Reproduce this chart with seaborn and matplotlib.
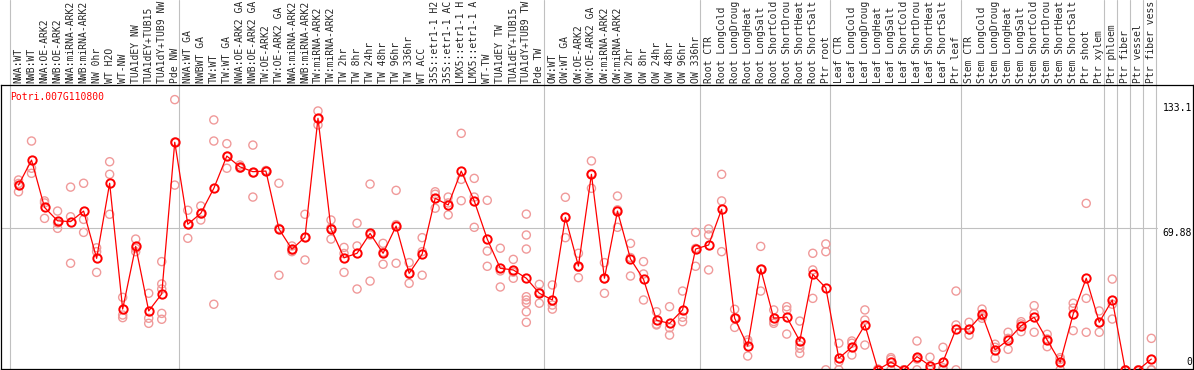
import pandas as pd
import matplotlib
matplotlib.use("Agg")
import matplotlib.pyplot as plt
import seaborn as sns

# %% Data
gene = "Potri.007G110800"

labels = [
    "NWA:WT", "NWB:WT", "NWA:OE-ARK2", "NWB:OE-ARK2", "NWA:miRNA-ARK2", "NWB:miRNA-ARK2",
    "NW 0hr", "WT H2O", "WT-NW", "TUA1dEY NW", "TUA1dEY+TUB15", "TUA1dY+TUB9 NW", "Pde NW",
    "NWA:WT GA", "NWBWT GA", "TW:WT", "TW:WT GA", "NWA:OE-ARK2 GA", "NWB:OE-ARK2 GA",
    "TW:OE-ARK2", "TW:OE-ARK2 GA", "NWA:miRNA-ARK2", "NWB:miRNA-ARK2", "TW:miRNA-ARK2",
    "TW:miRNA-ARK2", "TW 2hr", "TW 8hr", "TW 24hr", "TW 48hr", "TW 96hr", "TW 336hr",
    "WT ACC", "35S::etr1-1 H2", "35S::etr1-1 AC", "LMX5::etr1-1 H", "LMX5::etr1-1 A",
    "WT-TW", "TUA1dEY TW", "TUA1dEY+TUB15", "TUA1dY+TUB9 TW", "Pde TW",
    "OW:WT", "OW:WT GA", "OW:OE-ARK2", "OW:OE-ARK2 GA", "OW:miRNA-ARK2", "OW:miRNA-ARK2",
    "OW 2hr", "OW 8hr", "OW 24hr", "OW 48hr", "OW 96hr", "OW 336hr",
    "Root CTR", "Root LongCold", "Root LongDroug", "Root LongHeat", "Root LongSalt",
    "Root ShortCold", "Root ShortDrou", "Root ShortHeat", "Root ShortSalt", "Ptr root",
    "Leaf CTR", "Leaf LongCold", "Leaf LongDroug", "Leaf LongHeat", "Leaf LongSalt",
    "Leaf ShortCold", "Leaf ShortDrou", "Leaf ShortHeat", "Leaf ShortSalt", "Ptr leaf",
    "Stem CTR", "Stem LongCold", "Stem LongDroug", "Stem LongHeat", "Stem LongSalt",
    "Stem ShortCold", "Stem ShortDrou", "Stem ShortHeat", "Stem ShortSalt", "Ptr shoot",
    "Ptr xylem", "Ptr phloem", "Ptr fiber", "Ptr vessel", "Ptr fiber vess",
]

means = [
    91.0, 103.3, 80.0, 73.4, 73.0, 78.2, 54.9, 91.9, 29.9, 60.8, 29.0, 37.4, 112.1,
    71.7, 77.1, 89.4, 105.3, 100.0, 97.6, 97.9, 69.4, 59.4, 65.3, 123.9, 69.4, 55.2,
    57.4, 67.2, 57.4, 70.8, 47.5, 57.0, 84.5, 81.2, 97.9, 83.2, 64.4, 50.0, 49.2, 45.1,
    37.7, 34.4, 75.1, 51.1, 96.3, 45.1, 78.2, 54.6, 44.6, 24.4, 22.9, 29.5, 59.5,
    61.5, 79.1, 25.4, 11.7, 49.7, 25.4, 26.0, 14.2, 47.0, 40.4,
    5.7, 11.2, 22.1, 0.1, 3.8, 0.0, 6.5, 2.0, 4.0, 20.1,
    20.1, 27.3, 9.8, 14.7, 21.7, 25.9, 14.7, 3.7, 27.5, 45.1, 23.4,
    34.4, 0.0, 0.0, 5.3,
]

replicates = [
    [93.5, 87.7, 91.8], [112.7, 99.3, 96.8], [83.2, 82.2, 74.6], [78.2, 72.3, 69.7],
    [90.0, 75.4, 52.5], [91.9, 74.1, 67.7], [60.1, 58.2, 48.0], [102.5, 96.3, 76.6],
    [35.7, 27.0, 25.7], [64.4, 58.2, 59.8], [37.7, 25.4, 22.9],
    [53.3, 42.3, 39.8, 27.8, 24.9], [133.1, 112.2, 91.0],
    [78.6, 64.8, 71.7], [80.7, 73.8, 76.8], [123.1, 112.7, 32.3], [111.4, 99.3, 105.2],
    [100.9, 99.3, 99.8], [110.7, 85.1, 97.0], [97.9, 98.2, 97.6], [91.9, 69.7, 46.6],
    [61.0, 58.2, 59.0], [76.6, 54.1, 65.2], [127.5, 120.6, 123.6], [73.8, 64.4, 69.9],
    [60.3, 48.0, 57.3], [72.2, 61.0, 39.8], [91.5, 43.7, 66.4], [62.3, 52.0, 57.9],
    [88.4, 52.5, 71.5], [52.8, 42.6, 47.1], [65.1, 58.2, 46.6], [87.7, 86.5, 79.6],
    [85.1, 76.3, 82.2], [116.5, 93.8, 83.3], [94.3, 70.2, 85.1], [83.5, 58.5, 51.0],
    [59.9, 48.7, 40.8], [54.4, 45.1, 48.1],
    [76.7, 66.4, 59.5, 36.0, 34.4, 33.0, 28.6, 23.4], [42.1, 32.8, 38.2],
    [41.8, 31.9, 29.9], [85.0, 65.1, 75.2], [57.4, 45.4, 50.5], [102.9, 89.4, 96.6],
    [52.8, 37.7, 44.8], [85.6, 70.2, 78.8], [62.3, 46.2, 55.3], [53.3, 47.2, 34.4],
    [28.6, 22.5, 22.1], [31.1, 20.7, 17.1], [38.8, 25.9, 23.7], [67.7, 51.0, 59.8],
    [69.4, 66.4, 49.2], [96.3, 83.2, 58.2], [29.8, 20.9, 25.5], [14.7, 6.8, 13.6],
    [60.8, 38.8, 49.5], [29.5, 22.9, 23.8], [31.1, 29.5, 17.6],
    [24.0, 12.2, 10.6, 8.1], [57.4, 49.2, 35.2], [62.0, 58.2, 0.0],
    [13.1, 3.9, 0.0], [14.2, 13.1, 7.3], [29.5, 24.5, 12.2], [0.4, 0.0, 0.0],
    [6.0, 5.2, 0.0], [0.0, 0.0, 0.0], [14.2, 5.3, 0.0], [6.2, 0.0, 0.0],
    [11.1, 1.0, 0.0], [38.8, 22.1, 0.0],
    [23.4, 17.1, 19.8], [29.9, 25.4, 26.6], [12.6, 5.7, 11.1], [18.5, 10.1, 15.5],
    [23.7, 18.8, 22.6], [31.6, 27.8, 18.5], [17.5, 11.4, 15.2], [6.0, 0.0, 5.1],
    [32.8, 19.3, 30.4], [82.0, 35.2, 18.5], [29.0, 23.0, 18.5],
    [44.7, 32.3, 25.0], [0.0, 0.0], [0.0, 0.0], [15.5, 0.0, 0.0],
]

# first column of each sample group
group_starts = [0, 13, 41, 53, 63, 73, 84, 85, 86, 87, 88]

y_marks = ["133.1", "69.88", "0"]

# %% Long tables for seaborn
pos = list(range(len(labels)))
mean_df = pd.DataFrame({"pos": pos, "value": means})
rep_df = pd.DataFrame(
    [(i, v) for i, reps in enumerate(replicates) for v in reps],
    columns=["pos", "value"],
)

# %% Plot
sns.set_style("white")
plt.rcParams["font.family"] = ["DejaVu Sans Mono", "DejaVu Sans"]

fig = plt.figure(figsize=(11.94, 3.70), dpi=100)
ax = fig.add_axes([1 / 1194, 1 / 370, 1192 / 1194, 284 / 370])

ax.set_xlim(-1.344, 90.2)
ax.set_ylim(0.4, 140.3)

# group separators run up through the label strip
for s in group_starts:
    ax.axvline(s - 0.65, ymin=0, ymax=1 + 85 / 284, color="#c0c0c0",
               lw=0.8, clip_on=False, zorder=0)
ax.axhline(float(y_marks[1]), xmin=0, xmax=0.9698, color="#c0c0c0", lw=0.8, zorder=0)

sns.scatterplot(data=rep_df, x="pos", y="value", ax=ax, marker="o", s=34,
                facecolor="none", edgecolor="#f09a9a", linewidth=1.0, zorder=2)
sns.lineplot(data=mean_df, x="pos", y="value", ax=ax, color="red", lw=0.9,
             marker="o", markersize=6, markerfacecolor="none",
             markeredgecolor="red", markeredgewidth=1.4, zorder=3)

ax.set_xlabel("")
ax.set_ylabel("")
ax.xaxis.tick_top()
ax.set_xticks(pos)
ax.set_xticklabels(labels, rotation=90, fontsize=7)
ax.tick_params(axis="x", length=0, pad=1.5)
ax.set_yticks([])

for sp in ax.spines.values():
    sp.set_color("black")
    sp.set_linewidth(0.9)

ax.text(0.0076, 0.957, gene, transform=ax.transAxes, color="red",
        fontsize=7, ha="left", va="center")

for lab, yv in zip(y_marks, [128.8, 67.5, 4.0]):
    ax.text(0.9992, yv, lab, transform=ax.get_yaxis_transform(), color="black",
            fontsize=7, ha="right", va="center")

fig.savefig("out.png", dpi=100)
